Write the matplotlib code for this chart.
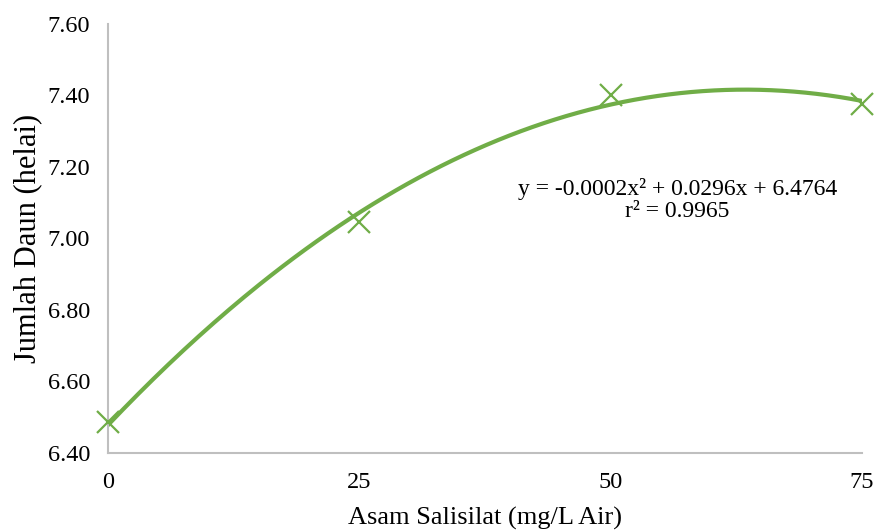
import numpy as np
import matplotlib
matplotlib.use("Agg")
import matplotlib.pyplot as plt

# data
asam = [0, 25, 50, 75]
daun = [6.487, 7.046, 7.401, 7.376]
xticks = [0, 25, 50, 75]
yticks = [6.40, 6.60, 6.80, 7.00, 7.20, 7.40, 7.60]
persamaan = "y = -0.0002x² + 0.0296x + 6.4764"
r2 = "r² = 0.9965"

plt.rcParams['font.family'] = ['Liberation Serif', 'DejaVu Serif']
hijau = '#70AD47'

fig = plt.figure(figsize=(8.76, 5.32), dpi=100)
ax = fig.add_axes([0.1233, 0.1485, 0.8607, 0.8064])

# polynomial trend line (order 2)
c = np.polyfit(asam, daun, 2)
xs = np.linspace(0, 75, 200)
ax.plot(xs, np.polyval(c, xs), color=hijau, lw=3, zorder=2)
ax.plot(asam, daun, ls='none', marker='x', ms=16, mew=1.6, color=hijau,
        zorder=3, clip_on=False)

ax.set_xlim(0, 75)
ax.set_ylim(6.40, 7.60)
ax.set_xticks(xticks)
ax.set_yticks(yticks)
ax.set_yticklabels(['%.2f' % v for v in yticks])
ax.tick_params(length=0, labelsize=17.5, colors='black')
ax.tick_params(axis='y', pad=13)
ax.tick_params(axis='x', pad=14)
for s in ['top', 'right']:
    ax.spines[s].set_visible(False)
for s in ['left', 'bottom']:
    ax.spines[s].set_color('#BFBFBF')
    ax.spines[s].set_linewidth(1.5)

ax.set_xlabel('Asam Salisilat (mg/L Air)', fontsize=19, labelpad=10)
ax.set_ylabel('Jumlah Daun (helai)', fontsize=22, labelpad=4)

ax.text(0.755, 0.59, persamaan + '\n' + r2, transform=ax.transAxes,
        ha='center', va='center', fontsize=17, linespacing=1.1)

fig.savefig('out.png', dpi=100)
